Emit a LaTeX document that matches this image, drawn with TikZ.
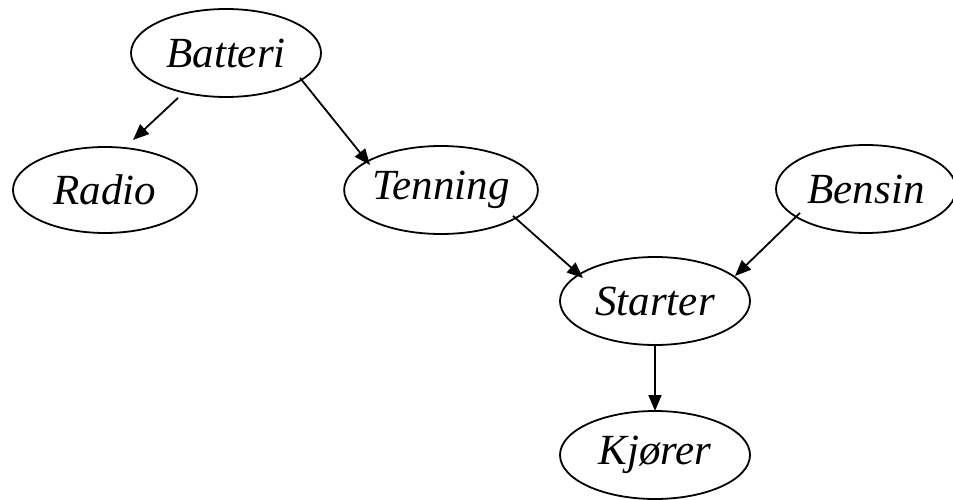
\documentclass[tikz,border=0pt]{standalone}
\usepackage{fontspec}
\setmainfont{Liberation Serif}
\usetikzlibrary{shapes.geometric,arrows.meta}
\begin{document}
\begin{tikzpicture}[x=1pt,y=-1pt,
  ev/.style={draw,line width=1.8pt,ellipse,minimum width=190pt,minimum height=88pt,inner sep=0pt,font=\fontsize{43}{45}\selectfont\itshape},
  arr/.style={line width=1.8pt,-{Triangle[length=16pt,width=13pt]}}]
\useasboundingbox (0,0) rectangle (953,500);
\node[ev] (bat) at (226,53) {Batteri};
\node[ev,minimum width=184pt,minimum height=86pt] (rad) at (105,190) {Radio};
\node[ev] (ten) at (441,190) {Tenning};
\node[ev,minimum width=180pt] (ben) at (866,189) {Bensin};
\node[ev] (sta) at (655,301) {Starter};
\node[ev] (kjo) at (655,455) {Kjører};
\coordinate (e1) at (133,140);
\coordinate (e2) at (370,165);
\coordinate (e3) at (583,278);
\coordinate (e4) at (735,276);
\coordinate (e5) at (655,411);
\draw[arr] ([xshift=-48pt,yshift=0pt]bat.south) -- (e1);
\draw[arr] ([xshift=74pt,yshift=20pt]bat.south) -- (e2);
\draw[arr] ([xshift=72pt,yshift=19pt]ten.south) -- (e3);
\draw[arr] ([xshift=-66pt,yshift=21pt]ben.south) -- (e4);
\draw[arr] (sta.south) -- (e5);
\end{tikzpicture}
\end{document}
